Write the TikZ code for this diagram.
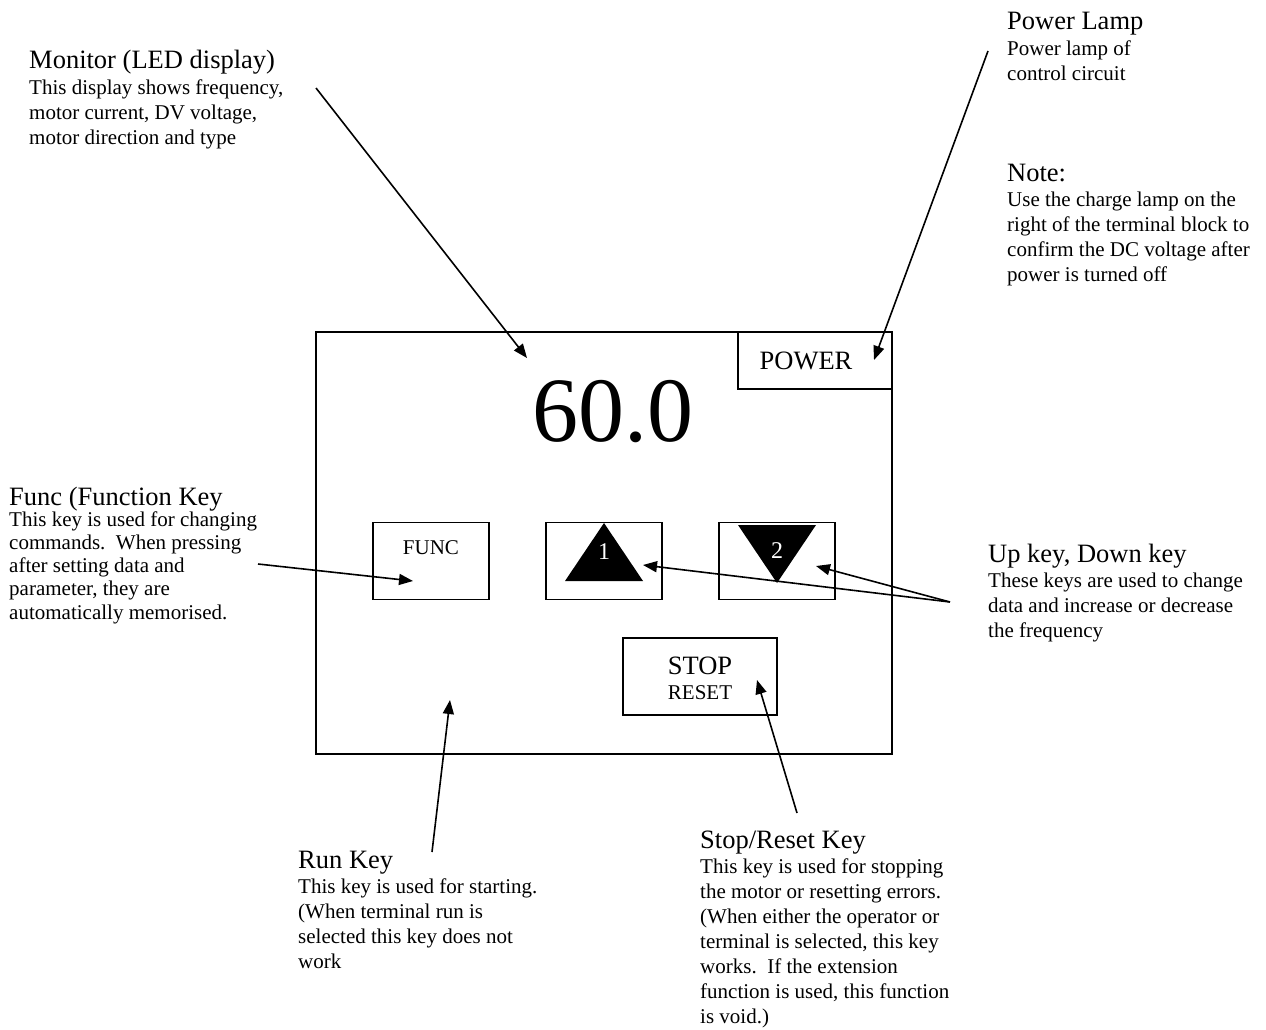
\documentclass[tikz,border=0pt]{standalone}
\usepackage{fontspec}
\setmainfont{Liberation Serif}
\usetikzlibrary{arrows.meta}
\newcommand{\lines}[1]{\begin{tabular}[t]{@{}l@{}}#1\end{tabular}}
\tikzset{
  head/.style={anchor=base west,inner sep=0pt,font=\fontsize{26.5}{30}\selectfont},
  txt/.style={anchor=base west,inner sep=0pt,font=\fontsize{21}{25}\selectfont},
  frame/.style={draw,line width=1.6pt,inner sep=0pt},
  keybox/.style={frame,minimum width=116pt,minimum height=77pt},
  callout/.style={-{Triangle[length=14pt,width=11pt]},line width=1.6pt},
}
\begin{document}
\begin{tikzpicture}[x=1pt,y=-1pt]
  \useasboundingbox (0,0) rectangle (1266,1030);

  % operator panel
  \node[frame,minimum width=576pt,minimum height=422pt] (panel) at (604,543) {};
  \node[frame,minimum width=154pt,minimum height=57pt] (power) at (815,360.5) {};
  \node[inner sep=0pt,font=\fontsize{26.5}{30}\selectfont] (power-txt) at (806,361) {POWER};
  \node[anchor=base,inner sep=0pt,font=\fontsize{92}{92}\selectfont] (reading) at (613,441) {60.0};

  % keys
  \node[keybox] (func) at (431,561) {};
  \node[inner sep=0pt,font=\fontsize{21}{25}\selectfont] (func-txt) at (431,548) {FUNC};
  \node[keybox] (up) at (604,561) {};
  \fill (604,523) -- (643,581) -- (565,581) -- cycle;
  \node[text=white,inner sep=0pt,font=\fontsize{24}{25}\selectfont] (up-txt) at (604,552) {1};
  \node[keybox] (down) at (777,561) {};
  \fill (738,525) -- (816,525) -- (777,583) -- cycle;
  \node[text=white,inner sep=0pt,font=\fontsize{24}{25}\selectfont] (down-txt) at (777,551) {2};
  \node[frame,minimum width=154pt,minimum height=77pt] (stop) at (700,676.5) {};
  \node[inner sep=0pt,font=\fontsize{26.5}{30}\selectfont] (stop-txt) at (700,666) {STOP};
  \node[inner sep=0pt,font=\fontsize{21}{25}\selectfont] (reset-txt) at (700,693) {RESET};

  % annotations
  \node[head] (monitor) at (29,69) {Monitor (LED display)};
  \node[txt] (monitor-txt) at (29,95) {\lines{This display shows frequency,\\motor current, DV voltage,\\motor direction and type}};
  \node[head] (lamp) at (1007,30) {Power Lamp};
  \node[txt] (lamp-txt) at (1007,56) {\lines{Power lamp of\\control circuit}};
  \node[head] (note) at (1007,181) {Note:};
  \node[txt] (note-txt) at (1007,206.5) {\lines{Use the charge lamp on the\\right of the terminal block to\\confirm the DC voltage after\\power is turned off}};
  \node[head] (funckey) at (9,505) {Func (Function Key};
  \node[txt,font=\fontsize{21}{23.3}\selectfont] (funckey-txt) at (9,526) {\lines{This key is used for changing\\commands.\ \ When pressing\\after setting data and\\parameter, they are\\automatically memorised.}};
  \node[head] (updown) at (988,562) {Up key, Down key};
  \node[txt] (updown-txt) at (988,587) {\lines{These keys are used to change\\data and increase or decrease\\the frequency}};
  \node[head] (runkey) at (298,868) {Run Key};
  \node[txt] (runkey-txt) at (298,893) {\lines{This key is used for starting.\\(When terminal run is\\selected this key does not\\work}};
  \node[head] (stopkey) at (700,848) {Stop/Reset Key};
  \node[txt] (stopkey-txt) at (700,873) {\lines{This key is used for stopping\\the motor or resetting errors.\\(When either the operator or\\terminal is selected, this key\\works.\ \ If the extension\\function is used, this function\\is void.)}};

  % callout ends
  \coordinate (monitor-end) at (316,88);
  \coordinate (monitor-tip) at (527,358);
  \coordinate (lamp-end) at (988,51);
  \coordinate (lamp-tip) at (874,360);
  \coordinate (funckey-end) at (258,564);
  \coordinate (funckey-tip) at (413,581);
  \coordinate (updown-end) at (950,602);
  \coordinate (up-tip) at (643,565);
  \coordinate (down-tip) at (816,566);
  \coordinate (runkey-end) at (432,852);
  \coordinate (runkey-tip) at (450,700);
  \coordinate (stopkey-end) at (797,813);
  \coordinate (stopkey-tip) at (757,680);

  \draw[callout] (monitor-end) -- (monitor-tip);
  \draw[callout] (lamp-end) -- (lamp-tip);
  \draw[callout] (funckey-end) -- (funckey-tip);
  \draw[callout] (updown-end) -- (up-tip);
  \draw[callout] (updown-end) -- (down-tip);
  \draw[callout] (runkey-end) -- (runkey-tip);
  \draw[callout] (stopkey-end) -- (stopkey-tip);
\end{tikzpicture}
\end{document}
